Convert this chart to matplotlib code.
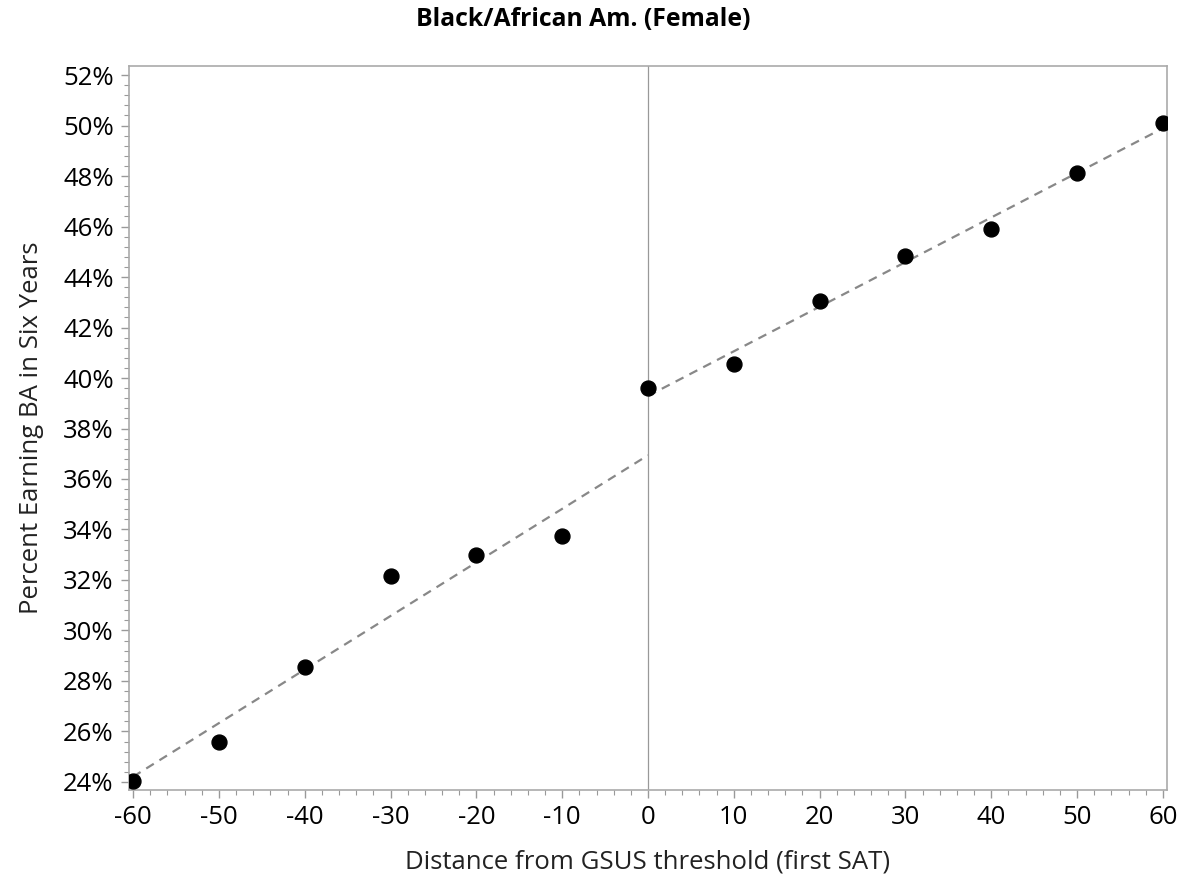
import numpy as np
import matplotlib
matplotlib.use("Agg")
import matplotlib.pyplot as plt
from matplotlib.ticker import MultipleLocator, FuncFormatter

plt.rcParams['font.family'] = ['Open Sans', 'DejaVu Sans']
plt.rcParams['axes.unicode_minus'] = False

# distance from threshold and percent earning BA in six years
distance = [-60, -50, -40, -30, -20, -10, 0, 10, 20, 30, 40, 50, 60]
pct_ba = [24.05, 25.58, 28.55, 32.16, 32.99, 33.74, 39.60,
          40.55, 43.05, 44.83, 45.90, 48.12, 50.10]

x = np.array(distance)
y = np.array(pct_ba)

fig = plt.figure(figsize=(11.85, 8.8), dpi=100)
ax = fig.add_axes([129 / 1185, 1 - 790 / 880, (1167 - 129) / 1185, (790 - 66) / 880])

# separate linear fits below and above the threshold, each reaching the cutoff
left = x < 0
right = x >= 0
for mask in (left, right):
    coef = np.polyfit(x[mask], y[mask], 1)
    xs = np.array([min(x[mask].min(), 0), max(x[mask].max(), 0)])
    ax.plot(xs, np.polyval(coef, xs), color='#888888', lw=1.6,
            dashes=(4, 3), zorder=2)

ax.axvline(0, color='#999999', lw=0.9, zorder=1)
ax.scatter(x, y, s=115, color='black', zorder=3)

ax.set_xlim(-60.47, 60.47)
ax.set_ylim(23.68, 52.36)
ax.xaxis.set_major_locator(MultipleLocator(10))
ax.xaxis.set_minor_locator(MultipleLocator(2))
ax.yaxis.set_major_locator(MultipleLocator(2))
ax.yaxis.set_minor_locator(MultipleLocator(0.4))
ax.yaxis.set_major_formatter(FuncFormatter(lambda v, p: f"{v:.0f}%"))

for sp in ax.spines.values():
    sp.set_color('#aaaaaa')
    sp.set_linewidth(1.2)
ax.tick_params(which='major', length=6, width=1, color='#999999',
               labelsize=18.5, labelcolor='black', pad=5)
ax.tick_params(which='minor', length=3.5, width=0.8, color='#999999')

ax.set_xlabel("Distance from GSUS threshold (first SAT)", fontsize=18.5,
              labelpad=14, color='#222222')
ax.set_ylabel("Percent Earning BA in Six Years", fontsize=18.5, labelpad=14,
              color='#222222')
fig.text(583 / 1185, 1 - 19 / 880, "Black/African Am. (Female)",
         fontsize=17.8, fontweight='bold', ha='center', va='center')

fig.savefig("out.png", dpi=100, facecolor='white')
